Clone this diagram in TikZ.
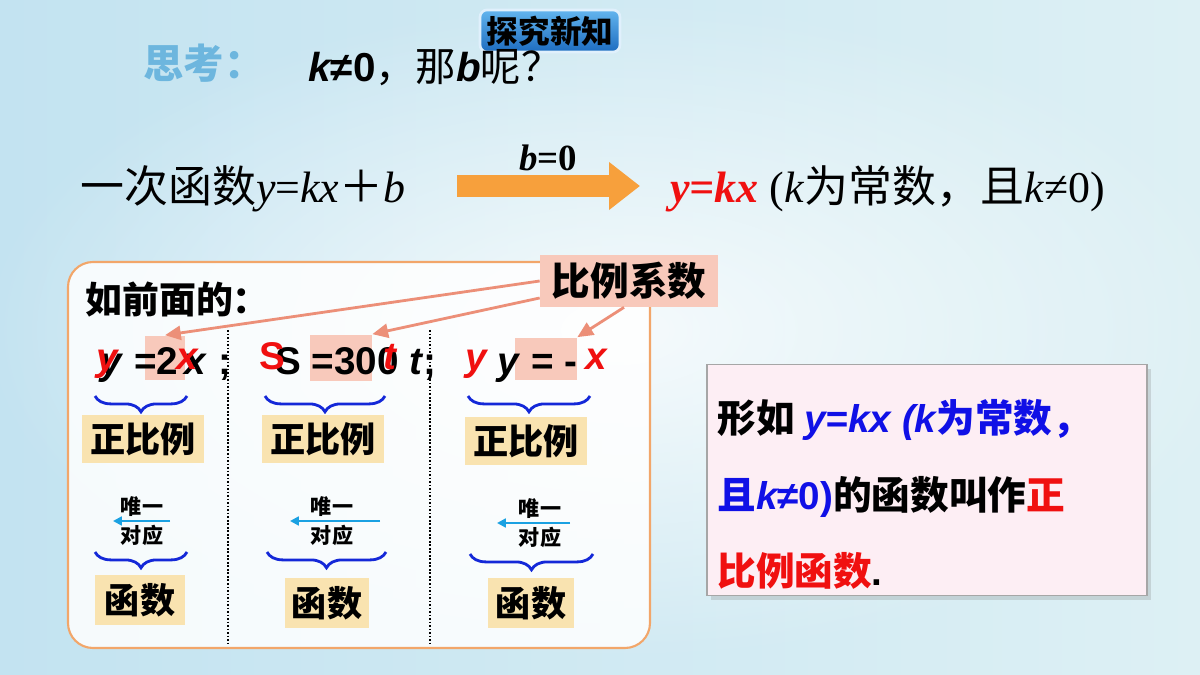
\documentclass[tikz,border=0pt]{standalone}
\usepackage{fontspec}
\setmainfont{Liberation Serif}
\setsansfont{Liberation Sans}
\newfontfamily\cjk{Noto Sans CJK SC}
\usetikzlibrary{arrows.meta, positioning, decorations.pathreplacing, shadows, fadings}
\definecolor{bgleft}{HTML}{C3E3F1}
\definecolor{bgright}{HTML}{DDF0F4}
\definecolor{thinkblue}{HTML}{6DB6DE}
\definecolor{badgetop}{HTML}{63B5EE}
\definecolor{badgebot}{HTML}{1D6CC0}
\definecolor{bigorange}{HTML}{F7A03C}
\definecolor{frameorange}{HTML}{F2A66A}
\definecolor{coefpink}{HTML}{F8C9BB}
\definecolor{ptrsalmon}{HTML}{EC8F78}
\definecolor{tagtan}{HTML}{F9E3B0}
\definecolor{braceblue}{HTML}{1428D8}
\definecolor{cyanarr}{HTML}{1BA1E2}
\definecolor{defpink}{HTML}{FDEEF4}
\definecolor{defblue}{HTML}{1010E6}
\definecolor{keyred}{HTML}{F01010}
\tikzfading[name=glow, inner color=transparent!0, outer color=transparent!100]
\newcommand{\fs}[1]{\fontsize{#1}{#1}\selectfont}
\newcommand{\hz}{\cjk\bfseries}
\newcommand{\vb}[1]{{\sffamily\bfseries\itshape #1}}

\begin{document}
\begin{tikzpicture}[x=0.02cm, y=-0.02cm,
    txt/.style={inner sep=0pt, anchor=base west},
    eq/.style={txt, font=\sffamily\bfseries\fs{22}},
    hlbox/.style={fill=coefpink, inner sep=0pt},
    tagbox/.style={fill=tagtan, inner sep=0pt, font=\hz\fs{20}},
    brc/.style={decorate, decoration={brace, mirror, amplitude=9pt}, draw=braceblue, line width=1.6pt},
    ptr/.style={draw=ptrsalmon, line width=1.6pt, -{Triangle[length=9pt, width=8pt]}},
    cyarr/.style={draw=cyanarr, line width=1.3pt, -{Triangle[length=5pt, width=5pt]}},
    small/.style={inner sep=0pt, font=\hz\fs{12}}]
  % background
  \useasboundingbox (0,0) rectangle (1200,675);
  \shade[left color=bgleft, right color=bgright] (0,0) rectangle (1200,675);
  \fill[white, opacity=0.8, path fading=glow] (620,330) ellipse (640 and 330);

  % badge and question
  \node[rounded corners=4pt, top color=badgetop, bottom color=badgebot, draw=white!80!badgetop,
    line width=1.5pt, minimum width=2.8cm, minimum height=0.8cm, font=\hz\fs{18}] (badge) at (550,31) {探究新知};
  \node[txt, font=\hz\fs{23}, text=thinkblue] (think) at (143,79) {思考：};
  \node[txt, font=\fs{23}] (ask) at (308,82)
    {\vb{k}{\sffamily\bfseries ≠0}{\cjk ，那}\vb{b}{\cjk 呢？}};

  % linear function to direct proportion
  \node[txt, font=\fs{25}] (lin) at (80,203) {{\cjk 一次函数}\textit{y}=\textit{kx}{\cjk ＋}\textit{b}};
  \coordinate (ga) at (457,186);
  \coordinate (gb) at (640,186);
  \draw[bigorange, line width=0.44cm, -{Triangle[length=0.62cm, width=0.92cm]}] (ga) -- (gb);
  \node[font=\bfseries\itshape\fs{21}, anchor=base] (bzero) at (548,171) {b\textup{=0}};
  \node[txt, font=\fs{25}] (prop) at (670,203)
    {{\color{keyred}\bfseries\itshape y=kx} (\textit{k}{\cjk 为常数，且}\textit{k}≠0)};

  % examples frame
  \draw[frameorange, line width=1.2pt, fill=white, fill opacity=0.85, rounded corners=0.5cm]
    (68,262) rectangle (650,648);
  \node[txt, font=\hz\fs{21}] (before) at (85,314) {如前面的：};
  \draw[densely dotted, line width=1pt] (228,330) -- (228,645);
  \draw[densely dotted, line width=1pt] (430,330) -- (430,645);

  % highlighted coefficients
  \node[hlbox, minimum width=0.8cm, minimum height=0.9cm] (hl1) at (165,358) {};
  \node[hlbox, minimum width=1.24cm, minimum height=0.94cm] (hl2) at (341,358) {};
  \node[hlbox, minimum width=1.24cm, minimum height=0.86cm] (hl3) at (546,359) {};

  \node[eq] (eqa) at (100,375) {\textit{y} =2\,\textit{x} ;};
  \node[eq, text=keyred] (ya) at (96,371) {\textit{y}};
  \node[eq, text=keyred] (xa) at (176,370) {\textit{x}};
  \node[eq] (eqb) at (275,375) {S =300 \textit{t};};
  \node[eq, text=keyred] (sb) at (259,370) {S};
  \node[eq, text=keyred] (tb) at (383,370) {\textit{t}};
  \node[eq] (eqc) at (497,375) {\textit{y} = -};
  \node[eq, text=keyred] (yc) at (465,371) {\textit{y}};
  \node[eq, text=keyred] (xc) at (585,370) {\textit{x}};

  % coefficient label
  \node[fill=coefpink, minimum width=3.56cm, minimum height=1.04cm, inner sep=0pt, font=\hz\fs{22}]
    (coef) at (629,281) {比例系数};
  \draw[ptr] (coef.west) -- (hl1.north);
  \draw[ptr] ([yshift=-0.34cm]coef.west) -- (hl2.north east);
  \draw[ptr] ([xshift=-0.1cm]coef.south) -- (hl3.north east);

  % braces, tags, correspondence
  \draw[brc] (95,396) -- (187,396);
  \draw[brc] (265,396) -- (385,396);
  \draw[brc] (468,396) -- (590,396);
  \node[tagbox, minimum width=2.46cm, minimum height=0.96cm] (zb1) at (143,439) {正比例};
  \node[tagbox, minimum width=2.46cm, minimum height=0.96cm] (zb2) at (323,439) {正比例};
  \node[tagbox, minimum width=2.46cm, minimum height=0.96cm] (zb3) at (526,441) {正比例};

  \node[small] (wa1) at (142,507) {唯一};
  \node[small] (wb1) at (142,535) {对应};
  \node[small] (wa2) at (332,507) {唯一};
  \node[small] (wb2) at (332,535) {对应};
  \node[small] (wa3) at (540,509) {唯一};
  \node[small] (wb3) at (540,537) {对应};
  \coordinate (ua1) at (170,521); \coordinate (ub1) at (113,521);
  \coordinate (ua2) at (380,521); \coordinate (ub2) at (290,521);
  \coordinate (ua3) at (570,523); \coordinate (ub3) at (497,523);
  \draw[cyarr] (ua1) -- (ub1);
  \draw[cyarr] (ua2) -- (ub2);
  \draw[cyarr] (ua3) -- (ub3);

  \draw[brc] (95,552) -- (187,552);
  \draw[brc] (267,552) -- (386,552);
  \draw[brc] (470,554) -- (593,554);
  \node[tagbox, minimum width=1.8cm, minimum height=1.0cm] (fn1) at (140,600) {函数};
  \node[tagbox, minimum width=1.7cm, minimum height=1.0cm] (fn2) at (327,603) {函数};
  \node[tagbox, minimum width=1.74cm, minimum height=1.0cm] (fn3) at (531,603) {函数};

  % definition
  \node[fill=defpink, draw=gray!70, line width=1pt, drop shadow={opacity=0.25},
    minimum width=8.8cm, minimum height=4.62cm] (def) at (927,480) {};
  \node[txt, font=\fs{22}] (d1) at (717,433)
    {{\hz 形如} {\color{defblue}\vb{y=kx (k}{\hz 为常数，}}};
  \node[txt, font=\fs{22}] (d2) at (717,509)
    {{\color{defblue}{\hz 且}\vb{k}{\sffamily\bfseries ≠0)}}{\hz 的函数叫作}{\color{keyred}\hz 正}};
  \node[txt, font=\fs{22}] (d3) at (717,585) {{\color{keyred}\hz 比例函数}{\sffamily\bfseries .}};
\end{tikzpicture}
\end{document}
